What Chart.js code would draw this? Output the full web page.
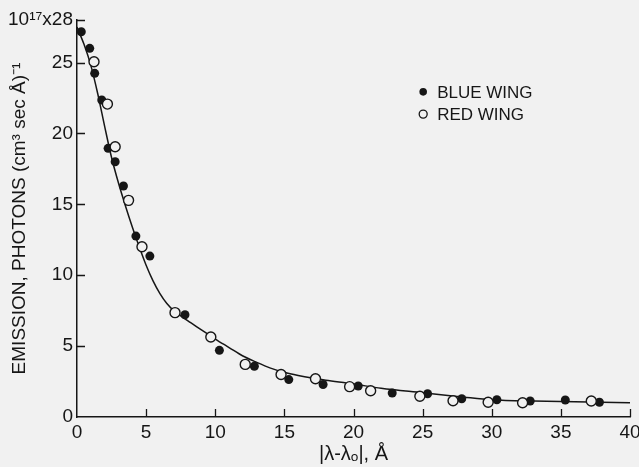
<!DOCTYPE html>
<html>
<head>
<meta charset="utf-8">
<script src="https://cdn.jsdelivr.net/npm/chart.js@4.4.1/dist/chart.umd.min.js"></script>
<style>
  html, body { margin: 0; padding: 0; background: #f1f1f1; }
  canvas { display: block; }
</style>
</head>
<body>
<canvas id="c" width="639" height="467"></canvas>
<script>
// ---- data ----
const blueX = [0.31, 0.92, 1.28, 1.79, 2.25, 2.76, 3.36, 4.26, 5.27, 7.81, 10.3, 12.83, 15.32, 17.8, 20.34, 22.8, 25.36, 27.83, 30.37, 32.78, 35.32, 37.79];
const blueY = [27.17, 26.0, 24.24, 22.36, 18.95, 18.0, 16.29, 12.76, 11.35, 7.21, 4.7, 3.58, 2.64, 2.29, 2.19, 1.69, 1.64, 1.29, 1.22, 1.13, 1.2, 1.04];
const redX = [1.23, 2.2, 2.76, 3.73, 4.7, 7.09, 9.68, 12.17, 14.76, 17.25, 19.72, 21.24, 24.8, 27.2, 29.74, 32.23, 37.2];
const redY = [25.06, 22.07, 19.06, 15.28, 12.01, 7.36, 5.64, 3.71, 3.0, 2.7, 2.14, 1.85, 1.46, 1.15, 1.04, 1.01, 1.13];
const curveX = [0, 0.5, 1, 1.5, 2, 2.5, 3, 3.5, 4, 4.5, 5, 5.5, 6, 6.5, 7, 8, 9, 10, 11, 12, 13, 14, 15, 16, 17, 18, 20, 22, 25, 28, 30, 33, 36, 40];
const curveY = [27.5, 26.3, 24.8, 22.8, 20.5, 18.3, 16.5, 14.9, 13.4, 12.0, 10.7, 9.6, 8.7, 8.0, 7.5, 6.8, 6.15, 5.5, 4.9, 4.3, 3.85, 3.45, 3.15, 2.93, 2.75, 2.6, 2.33, 2.02, 1.71, 1.4, 1.22, 1.12, 1.07, 1.0];
const yTickValues = [0, 5, 10, 15, 20, 25, 28];
const yTopLabel = '10¹⁷x28';
const seriesNames = ['BLUE WING', 'RED WING'];
const yTitle = 'EMISSION, PHOTONS (cm³ sec Å)⁻¹';
const xTitle = '|λ-λₒ|, Å';

const BG = '#f1f1f1';
const INK = '#161616';
const FONT = "'Liberation Sans', Arial, sans-serif";

const zip = (xs, ys) => xs.map((x, i) => ({ x, y: ys[i] }));

const insideTicks = {
  id: 'insideTicks',
  beforeDraw(chart) {
    const ctx = chart.ctx;
    ctx.save();
    ctx.fillStyle = BG;
    ctx.fillRect(0, 0, chart.width, chart.height);
    ctx.restore();
  },
  afterDraw(chart) {
    const { ctx, chartArea: a, scales: { x, y } } = chart;
    ctx.save();
    ctx.strokeStyle = INK;
    ctx.lineWidth = 1.3;
    ctx.beginPath();
    x.ticks.forEach(t => {
      if (t.value === 0) return;
      const px = Math.round(x.getPixelForValue(t.value)) + 0.5;
      ctx.moveTo(px, a.bottom);
      ctx.lineTo(px, a.bottom - 8);
    });
    y.ticks.forEach(t => {
      if (t.value === 0) return;
      const py = Math.round(y.getPixelForValue(t.value)) + 0.5;
      ctx.moveTo(a.left, py);
      ctx.lineTo(a.left + 8, py);
    });
    ctx.stroke();

    // legend
    const lx = a.left + 0.626 * (a.right - a.left);
    const ly1 = a.top + 0.181 * (a.bottom - a.top);
    const ly2 = a.top + 0.237 * (a.bottom - a.top);
    ctx.fillStyle = INK;
    ctx.beginPath();
    ctx.arc(lx, ly1, 3.8, 0, Math.PI * 2);
    ctx.fill();
    ctx.beginPath();
    ctx.arc(lx, ly2, 4, 0, Math.PI * 2);
    ctx.fillStyle = BG;
    ctx.fill();
    ctx.lineWidth = 1.3;
    ctx.stroke();
    ctx.fillStyle = INK;
    ctx.font = '17px ' + FONT;
    ctx.textBaseline = 'middle';
    ctx.textAlign = 'left';
    ctx.fillText(seriesNames[0], lx + 14, ly1 + 1);
    ctx.fillText(seriesNames[1], lx + 14, ly2 + 1);
    ctx.restore();
  }
};

new Chart(document.getElementById('c'), {
  type: 'scatter',
  data: {
    datasets: [
      {
        label: seriesNames[0],
        data: zip(blueX, blueY),
        pointRadius: 4.5,
        pointBackgroundColor: INK,
        pointBorderColor: INK,
        pointBorderWidth: 0,
        order: 1
      },
      {
        label: seriesNames[1],
        data: zip(redX, redY),
        pointRadius: 5,
        pointBackgroundColor: BG,
        pointBorderColor: INK,
        pointBorderWidth: 1.4,
        order: 0
      },
      {
        type: 'line',
        label: 'fit',
        data: zip(curveX, curveY),
        showLine: true,
        borderColor: INK,
        borderWidth: 1.5,
        pointRadius: 0,
        cubicInterpolationMode: 'monotone',
        fill: false,
        order: 2
      }
    ]
  },
  options: {
    responsive: false,
    animation: false,
    devicePixelRatio: 1,
    layout: { padding: { top: 20, right: 9, left: 0, bottom: 0 } },
    plugins: { legend: { display: false }, tooltip: { enabled: false } },
    scales: {
      x: {
        type: 'linear',
        min: 0, max: 40,
        ticks: { stepSize: 5, color: INK, font: { family: FONT, size: 19 }, padding: 4, maxRotation: 0 },
        grid: { display: false, drawTicks: false },
        border: { display: true, color: INK, width: 1.5 },
        title: { display: true, text: xTitle, color: INK, font: { family: FONT, size: 20 }, padding: { top: 0, bottom: 1 } },
        afterFit(s) { s.height = 50; s.paddingLeft = 0; s.paddingRight = 0; }
      },
      y: {
        type: 'linear',
        min: 0, max: 28,
        afterBuildTicks(s) { s.ticks = yTickValues.map(v => ({ value: v })); },
        ticks: {
          color: INK, font: { family: FONT, size: 19 }, padding: 4,
          callback: v => (v === 28 ? yTopLabel : String(v))
        },
        grid: { display: false, drawTicks: false },
        border: { display: true, color: INK, width: 1.5 },
        title: { display: true, text: yTitle, color: INK, font: { family: FONT, size: 19 }, padding: { top: 8, bottom: 0 } },
        afterFit(s) { s.width = 77; s.paddingTop = 0; s.paddingBottom = 0; }
      }
    }
  },
  plugins: [insideTicks]
});
</script>
</body>
</html>
